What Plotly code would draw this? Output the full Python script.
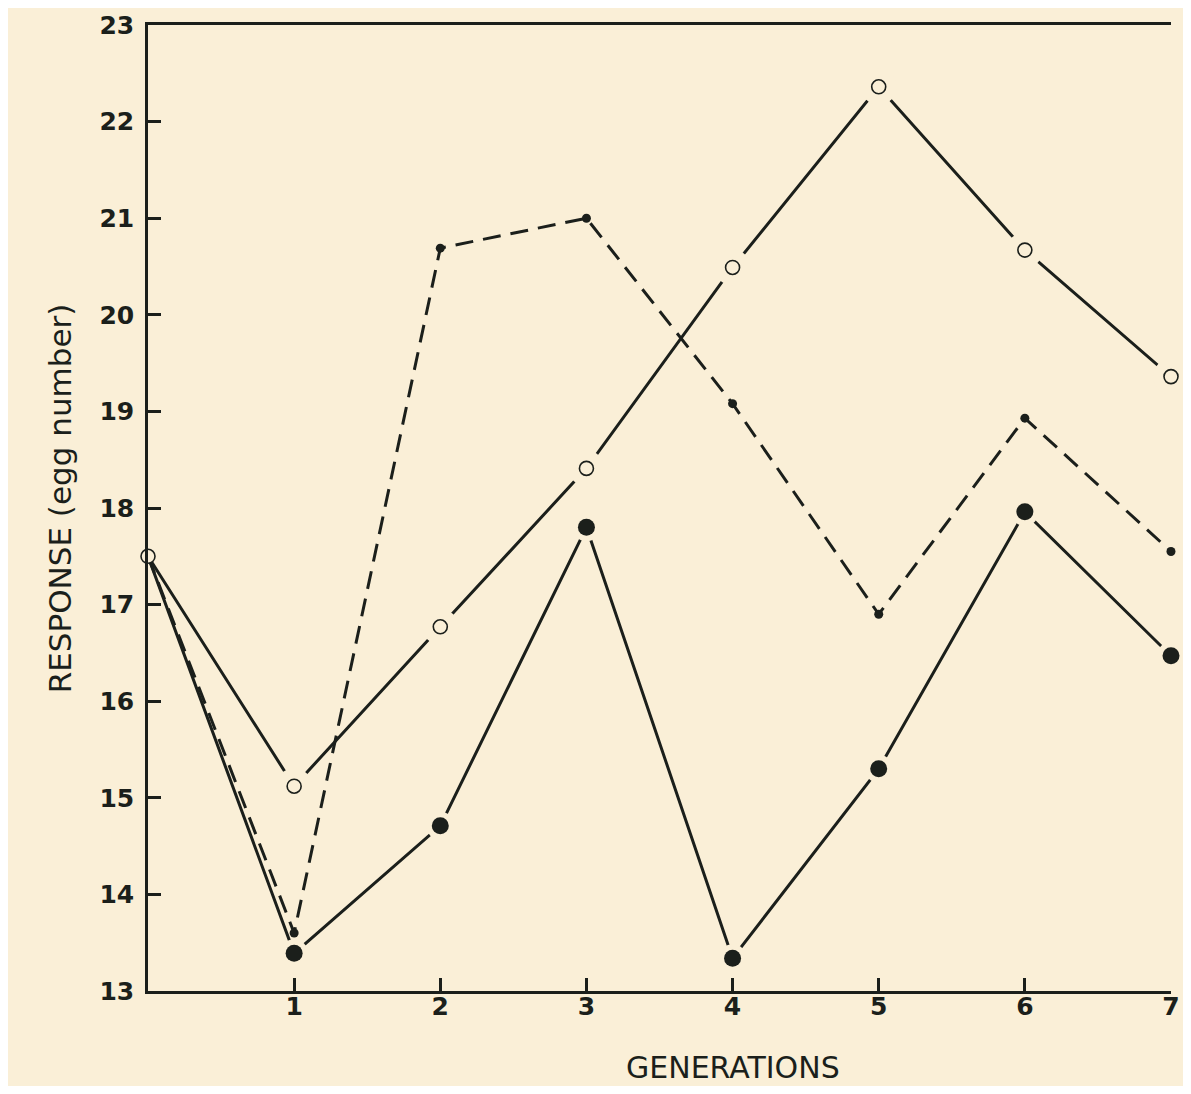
import plotly.graph_objects as go

generations = [0, 1, 2, 3, 4, 5, 6, 7]
open_circle = [17.5, 15.12, 16.77, 18.41, 20.49, 22.36, 20.67, 19.36]
filled_circle = [17.5, 13.39, 14.71, 17.80, 13.34, 15.30, 17.96, 16.47]
small_dot = [17.5, 13.60, 20.69, 21.00, 19.08, 16.90, 18.93, 17.55]

x_ticks = [1, 2, 3, 4, 5, 6, 7]
y_ticks = [13, 14, 15, 16, 17, 18, 19, 20, 21, 22, 23]

BG = "#faefd7"
INK = "#1b1f1b"
FONT = "DejaVu Sans"

# marker styling (no markers at the shared start for dotted / filled series)
dot_sizes = [0] + [9] * 7
filled_sizes = [0] + [17] * 7
filled_mask_sizes = [0] + [28] * 7
open_mask_sizes = [0] + [36] * 7

fig = go.Figure()

# ---- base subplot: the lines
fig.add_trace(go.Scatter(x=generations, y=small_dot, mode="lines",
                         line=dict(color=INK, width=3, dash="18px,10px"),
                         hoverinfo="skip"))
fig.add_trace(go.Scatter(x=generations, y=filled_circle, mode="lines",
                         line=dict(color=INK, width=3), hoverinfo="skip"))
fig.add_trace(go.Scatter(x=generations, y=open_circle, mode="lines",
                         line=dict(color=INK, width=3), hoverinfo="skip"))

# ---- overlay subplot: gaps (background masks) and markers, drawn above the lines
fig.add_trace(go.Scatter(x=generations, y=open_circle, mode="markers",
                         xaxis="x2", yaxis="y2",
                         marker=dict(color=BG, size=open_mask_sizes, opacity=1, line=dict(width=0)),
                         cliponaxis=False, hoverinfo="skip"))
fig.add_trace(go.Scatter(x=generations, y=filled_circle, mode="markers",
                         xaxis="x2", yaxis="y2",
                         marker=dict(color=BG, size=filled_mask_sizes, opacity=1, line=dict(width=0)),
                         cliponaxis=False, hoverinfo="skip"))
fig.add_trace(go.Scatter(x=generations, y=small_dot, mode="markers",
                         xaxis="x2", yaxis="y2",
                         marker=dict(color=INK, size=dot_sizes, opacity=1, line=dict(width=0)),
                         cliponaxis=False))
fig.add_trace(go.Scatter(x=generations, y=filled_circle, mode="markers",
                         xaxis="x2", yaxis="y2",
                         marker=dict(color=INK, size=filled_sizes, opacity=1, line=dict(width=0)),
                         cliponaxis=False))
fig.add_trace(go.Scatter(x=generations, y=open_circle, mode="markers",
                         xaxis="x2", yaxis="y2",
                         marker=dict(color=BG, size=14, opacity=1,
                                     line=dict(color=INK, width=1.6)),
                         cliponaxis=False))

tickfont = dict(size=25, family=FONT, color=INK, weight="bold")

fig.update_layout(
    width=1175, height=1078,
    margin=dict(l=140, r=12, t=17, b=95, autoexpand=False),
    paper_bgcolor=BG, plot_bgcolor=BG,
    showlegend=False,
    font=dict(family=FONT, color=INK),
    xaxis=dict(range=[0, 7], tickvals=x_ticks, ticktext=[str(v) for v in x_ticks],
               showgrid=False, zeroline=False, showline=True, linecolor=INK, linewidth=2.5,
               mirror=True, ticks="inside", ticklen=13, tickwidth=2.5, tickcolor=INK,
               automargin=False,
               tickfont=tickfont, ticklabeloverflow="allow", ticklabelstandoff=-9),
    yaxis=dict(range=[13, 23], tickvals=y_ticks, ticktext=[str(v) for v in y_ticks],
               showgrid=False, zeroline=False, showline=True, linecolor=INK, linewidth=2.5,
               ticks="inside", ticklen=13, tickwidth=2.5, tickcolor=INK, automargin=False,
               tickfont=tickfont, ticklabelstandoff=6, ticklabeloverflow="allow"),
    xaxis2=dict(range=[0, 7], overlaying="x", visible=False, automargin=False),
    yaxis2=dict(range=[13, 23], overlaying="y", visible=False, automargin=False),
    annotations=[
        dict(text="GENERATIONS", xref="paper", yref="paper", x=0.572, y=0,
             yshift=-76, xanchor="center", yanchor="middle", showarrow=False,
             font=dict(size=30, family=FONT, color=INK)),
        dict(text="RESPONSE (egg number)", xref="paper", yref="paper", x=0, y=0.51,
             xshift=-88, xanchor="center", yanchor="middle", textangle=-90, showarrow=False,
             font=dict(size=31, family=FONT, color=INK)),
    ],
)

fig.write_html("out.html")
